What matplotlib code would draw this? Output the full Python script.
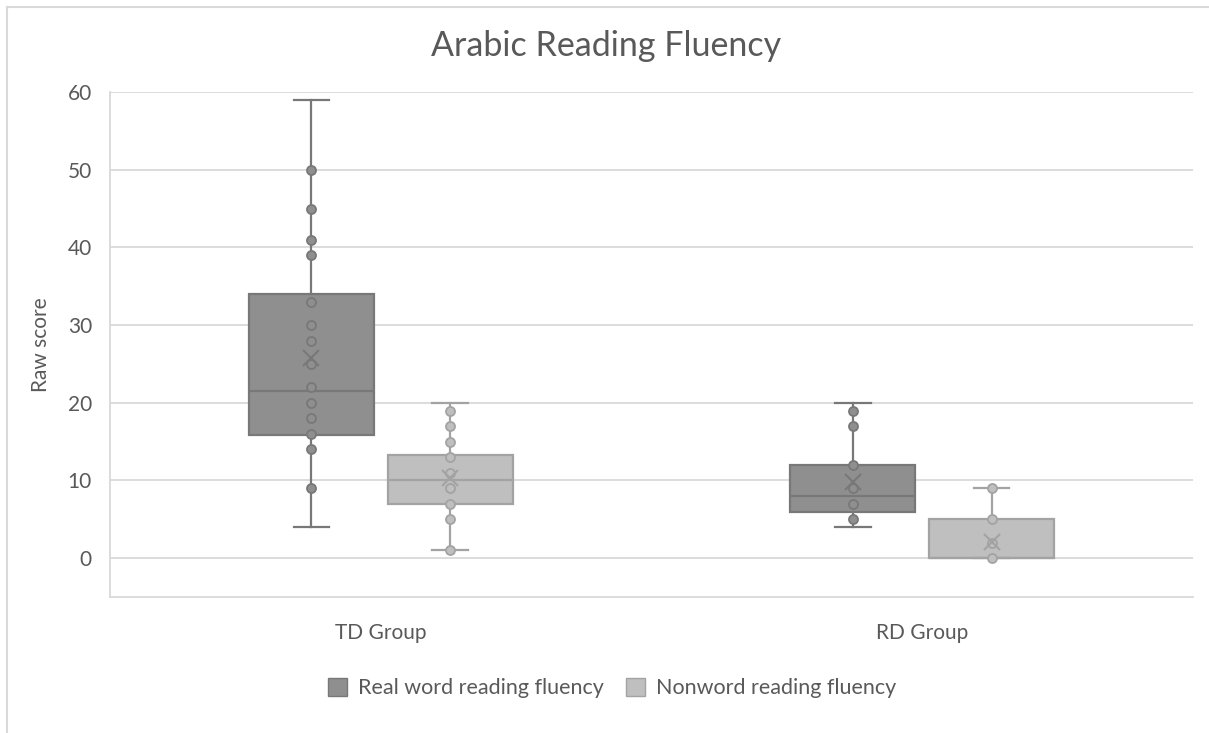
import matplotlib.pyplot as plt
import numpy as np
from matplotlib.lines import Line2D
from matplotlib.patches import Patch

GROUPS = ["TD Group", "RD Group"]
SERIES = ["Real word reading fluency", "Nonword reading fluency"]

# box statistics (one value per group)
REAL_LOW = [4, 4]
REAL_Q1 = [15.8, 6]
REAL_MED = [21.5, 8]
REAL_Q3 = [34, 12]
REAL_HIGH = [59, 20]
REAL_MEAN = [25.8, 9.8]

NONWORD_LOW = [1, 0]
NONWORD_Q1 = [7, 0]
NONWORD_MED = [10, 0]
NONWORD_Q3 = [13.3, 5]
NONWORD_HIGH = [20, 9]
NONWORD_MEAN = [10.3, 2.1]

# individual points shown on the boxes
REAL_POINTS = [
    [50, 45, 41, 39, 33, 30, 28, 25, 22, 20, 18, 16, 14, 9],
    [19, 17, 12, 9, 7, 5],
]
NONWORD_POINTS = [
    [19, 17, 15, 13, 11, 9, 7, 5, 1],
    [9, 5, 2, 0],
]

FONT = "Lato"
TEXT = "#595959"
GRID = "#d9d9d9"

STYLE = {
    "real": {"fill": "#8f8f8f", "edge": "#787878"},
    "nonword": {"fill": "#bfbfbf", "edge": "#a3a3a3"},
}

OFFSET = 0.128
WIDTH = 0.231


def _stats(low, q1, med, q3, high, mean):
    out = []
    for i in range(len(low)):
        out.append({"whislo": low[i], "q1": q1[i], "med": med[i], "q3": q3[i],
                    "whishi": high[i], "mean": mean[i], "fliers": []})
    return out


def draw_series(ax, stats, points, positions, colors):
    fill, edge = colors["fill"], colors["edge"]
    ax.bxp(
        stats,
        positions=positions,
        widths=WIDTH,
        capwidths=0.066,
        patch_artist=True,
        showmeans=False,
        showfliers=False,
        boxprops={"facecolor": fill, "edgecolor": edge, "linewidth": 1.6},
        medianprops={"color": edge, "linewidth": 1.6},
        whiskerprops={"color": edge, "linewidth": 1.6},
        capprops={"color": edge, "linewidth": 1.6},
        manage_ticks=False,
        zorder=2,
    )
    for pos, pts, st in zip(positions, points, stats):
        ax.plot(np.full(len(pts), pos), pts, "o", ms=6.5, mfc=fill, mec=edge,
                mew=1.3, zorder=4)
        ax.plot(pos, st["mean"], marker="x", ms=12, mew=1.5, color=edge, zorder=5)


def main():
    plt.rcParams["font.family"] = [FONT, "DejaVu Sans"]
    fig = plt.figure(figsize=(12.09, 7.33), dpi=100)
    ax = fig.add_axes([110 / 1209, 1 - 597 / 733, (1193 - 110) / 1209, (597 - 92) / 733])

    x = np.arange(len(GROUPS))
    real = _stats(REAL_LOW, REAL_Q1, REAL_MED, REAL_Q3, REAL_HIGH, REAL_MEAN)
    nonword = _stats(NONWORD_LOW, NONWORD_Q1, NONWORD_MED, NONWORD_Q3, NONWORD_HIGH, NONWORD_MEAN)
    draw_series(ax, real, REAL_POINTS, x - OFFSET, STYLE["real"])
    draw_series(ax, nonword, NONWORD_POINTS, x + OFFSET, STYLE["nonword"])

    ax.set_xlim(-0.5, 1.5)
    ax.set_ylim(-5, 60)
    ax.set_yticks(np.arange(0, 61, 10))
    ax.set_xticks(x)
    ax.set_xticklabels(GROUPS)
    ax.yaxis.grid(True, color=GRID, linewidth=1.3, zorder=0)
    ax.set_axisbelow(True)
    for side in ("top", "right"):
        ax.spines[side].set_visible(False)
    for side in ("left", "bottom"):
        ax.spines[side].set_color(GRID)
        ax.spines[side].set_linewidth(1.3)
    ax.tick_params(length=0, labelsize=15, labelcolor=TEXT)
    ax.tick_params(axis="x", pad=19)
    ax.tick_params(axis="y", pad=13)
    ax.set_ylabel("Raw score", fontsize=15, color=TEXT, labelpad=12)

    fig.text(606 / 1209, 1 - 46 / 733, "Arabic Reading Fluency", ha="center", va="center",
             fontsize=24.5, color=TEXT)

    handles = [
        Patch(facecolor=STYLE["real"]["fill"], edgecolor=STYLE["real"]["edge"], label=SERIES[0]),
        Patch(facecolor=STYLE["nonword"]["fill"], edgecolor=STYLE["nonword"]["edge"], label=SERIES[1]),
    ]
    fig.legend(handles=handles, loc="center", bbox_to_anchor=(612 / 1209, 1 - 688 / 733), ncol=2,
               frameon=False, fontsize=15.5, labelcolor=TEXT, handlelength=0.9, handleheight=0.9,
               columnspacing=1.0, handletextpad=0.5)

    # outer chart border (left and top edges are visible in the frame)
    fig.add_artist(Line2D([7 / 1209, 7 / 1209], [0, 1 - 7 / 733], color=GRID, linewidth=1.5))
    fig.add_artist(Line2D([7 / 1209, 1], [1 - 7 / 733, 1 - 7 / 733], color=GRID, linewidth=1.5))

    fig.savefig("out.png", dpi=100)
    plt.close(fig)


if __name__ == "__main__":
    main()
